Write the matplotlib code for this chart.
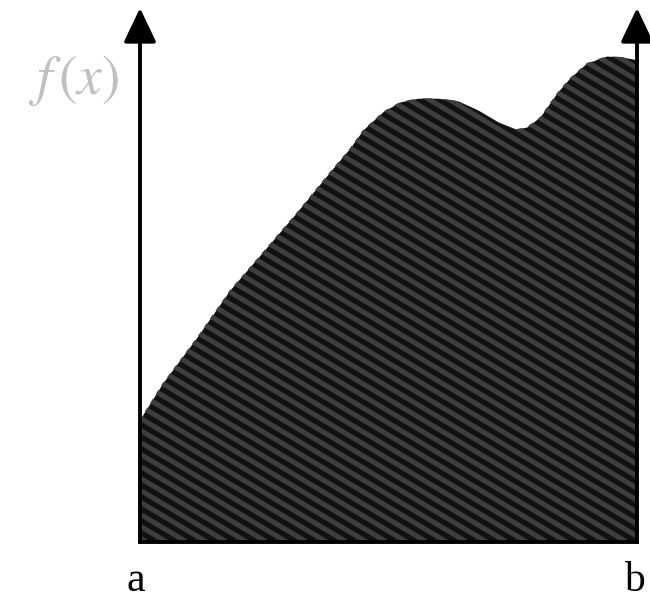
import numpy as np
import matplotlib
matplotlib.use("Agg")
import matplotlib.pyplot as plt

# Curve (x: a=0 .. b=1, y: 0 = bottom line, 1 = arrow tip)
x = [0.0, 0.046, 0.115, 0.181, 0.247, 0.316, 0.382, 0.422, 0.449, 0.489,
     0.523, 0.559, 0.600, 0.640, 0.680, 0.720, 0.756, 0.778, 0.805, 0.839,
     0.865, 0.899, 0.939, 0.972, 1.0]
y = [0.230, 0.298, 0.384, 0.472, 0.543, 0.618, 0.693, 0.737, 0.772, 0.806,
     0.824, 0.831, 0.831, 0.826, 0.809, 0.787, 0.773, 0.777, 0.796, 0.841,
     0.869, 0.897, 0.910, 0.908, 0.903]
label_a = "a"
label_b = "b"
label_f = r"$f\,(x)$"

plt.rcParams["mathtext.fontset"] = "stix"

fig = plt.figure(figsize=(6.5, 6.02), dpi=100)
ax = fig.add_axes([140 / 650, 60 / 602, 497 / 650, 534 / 602])
ax.set_xlim(0, 1)
ax.set_ylim(0, 1)
ax.axis("off")

# dark fill under the curve
poly = ax.fill_between(x, y, 0, color="#111111", linewidth=0)

# diagonal stripes, clipped to the fill
clip_path = poly.get_paths()[0]
slope = -0.6
period = 0.12  # vertical spacing in inches
for c in np.arange(-2, 12, period):
    xs = np.array([0, 7])
    ax.plot(xs, c + slope * xs, color="#3e3e3e", lw=3.6,
            transform=fig.dpi_scale_trans, solid_capstyle="butt")
    ax.lines[-1].set_clip_path(clip_path, ax.transData)

# axes: bottom line and two arrows
ax.plot([0, 1], [0, 0], color="black", lw=2.8, clip_on=False,
        solid_capstyle="projecting")
for xa in [0, 1]:
    ax.annotate("", xy=(xa, 1), xytext=(xa, 0), xycoords="data",
                arrowprops=dict(arrowstyle="-|>,head_length=21,head_width=10",
                                mutation_scale=1, color="black", lw=2.8,
                                shrinkA=0, shrinkB=0), annotation_clip=False)

fig.text(74 / 650, 1 - 80 / 602, label_f, color="#c0c0c0", fontsize=40,
         ha="center", va="center")
fig.text(136 / 650, 1 - 591 / 602, label_a, family="Liberation Serif",
         fontsize=30, ha="center", va="baseline")
fig.text(634 / 650, 1 - 591 / 602, label_b, family="Liberation Serif",
         fontsize=30, ha="center", va="baseline")

fig.savefig("out.png", dpi=100)
